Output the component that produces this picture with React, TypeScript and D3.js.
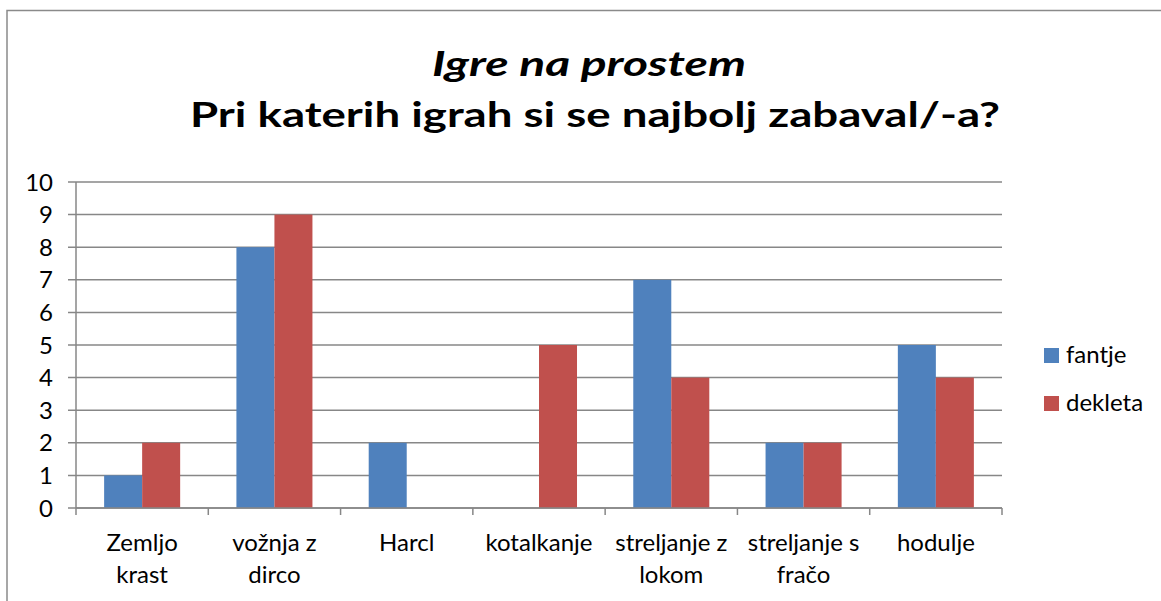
import React from "react";
import * as d3 from "d3";

const categories: string[][] = [
  ["Zemljo", "krast"],
  ["vožnja z", "dirco"],
  ["Harcl"],
  ["kotalkanje"],
  ["streljanje z", "lokom"],
  ["streljanje s", "fračo"],
  ["hodulje"],
];
const seriesNames = ["fantje", "dekleta"];
const fantje = [1, 8, 2, 0, 7, 2, 5];
const dekleta = [2, 9, 0, 5, 4, 2, 4];
const yTicks = [0, 1, 2, 3, 4, 5, 6, 7, 8, 9, 10];
const colors = ["#4F81BD", "#C0504D"];
const titleLine1 = "Igre na prostem";
const titleLine2 = "Pri katerih igrah si se najbolj zabaval/-a?";

const W = 1161;
const H = 601;
const FONT = "Lato, 'Open Sans', sans-serif";

export default function App() {
  const left = 76;
  const right = 1002;
  const top = 182;
  const bottom = 508;
  const idx = categories.map((_, i) => i);
  const x = d3.scaleBand<number>().domain(idx).range([left, right]).paddingInner(0).paddingOuter(0);
  const inner = d3.scaleBand<number>().domain([0, 1]).range([0, x.bandwidth()]).paddingOuter(0.74).paddingInner(0);
  const y = d3.scaleLinear().domain([0, 10]).range([bottom, top]);
  const series = [fantje, dekleta];
  const grid = "#878787";
  const fs = 24;

  return (
    <svg width={W} height={H} style={{ position: "absolute", left: 0, top: 0, background: "#fff" }} fontFamily={FONT}>
      <rect x={7} y={10.5} width={W + 20} height={H + 20} fill="#fff" stroke="#8a8a8a" strokeWidth={1.5} />
      <text x={589} y={76} textAnchor="middle" fontSize={35} fontStyle="italic" fontWeight={700} fill="#000"
        textLength={314} lengthAdjust="spacingAndGlyphs">{titleLine1}</text>
      <text x={595} y={127} textAnchor="middle" fontSize={35} fontWeight={700} fill="#000"
        textLength={810} lengthAdjust="spacingAndGlyphs">{titleLine2}</text>

      {yTicks.map((t) => (
        <g key={t}>
          <line x1={68} x2={right} y1={y(t)} y2={y(t)} stroke={grid} strokeWidth={1.5} />
          <text x={53} y={y(t)} dy="0.36em" textAnchor="end" fontSize={fs} fill="#000">{t}</text>
        </g>
      ))}

      {series.map((vals, s) =>
        vals.map((v, i) =>
          v > 0 ? (
            <rect key={`${s}-${i}`} x={(x(i) as number) + (inner(s) as number)} y={y(v)}
              width={inner.bandwidth()} height={y(0) - y(v)} fill={colors[s]} />
          ) : null
        )
      )}

      <line x1={left} x2={left} y1={top} y2={bottom} stroke={grid} strokeWidth={1.5} />
      <line x1={left} x2={right} y1={bottom} y2={bottom} stroke={grid} strokeWidth={1.5} />
      {[...idx, idx.length].map((i) => {
        const xx = left + i * x.step();
        return <line key={i} x1={xx} x2={xx} y1={bottom} y2={bottom + 7} stroke={grid} strokeWidth={1.5} />;
      })}

      {categories.map((lines, i) => (
        <text key={i} textAnchor="middle" fontSize={fs} fill="#000">
          {lines.map((l, k) => (
            <tspan key={k} x={(x(i) as number) + x.bandwidth() / 2} y={551 + k * 32}>{l}</tspan>
          ))}
        </text>
      ))}

      {seriesNames.map((n, s) => (
        <g key={n}>
          <rect x={1044} y={348 + s * 48} width={15} height={15} fill={colors[s]} />
          <text x={1066} y={363 + s * 48} fontSize={fs} fill="#000">{n}</text>
        </g>
      ))}
    </svg>
  );
}
